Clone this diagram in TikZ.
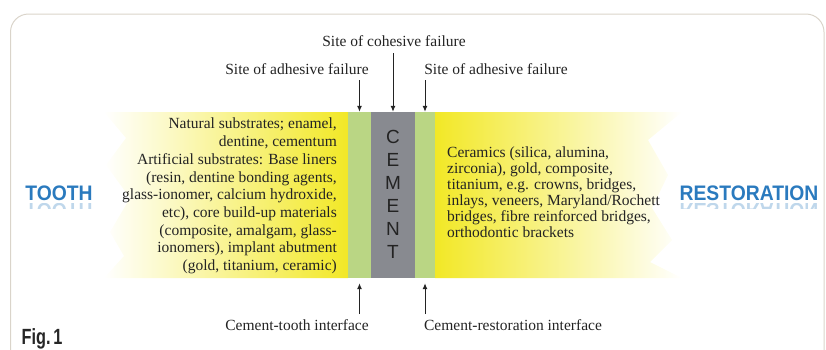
\documentclass[tikz,border=0pt]{standalone}
\usepackage{fontspec}
\setmainfont{Liberation Serif}
\setsansfont{Liberation Sans}
\usetikzlibrary{arrows.meta}

\definecolor{bandyellow}{RGB}{242,232,38}
\definecolor{layergreen}{RGB}{186,214,132}
\definecolor{cementgray}{RGB}{136,138,144}
\definecolor{titleblue}{RGB}{42,122,190}
\definecolor{framegray}{RGB}{218,212,202}
\definecolor{inkgray}{RGB}{35,35,35}

\tikzset{
  labeltext/.style={font=\fontsize{15.5}{17.7}\selectfont, text=inkgray, inner sep=0pt},
  layerbox/.style={minimum height=166pt, inner sep=0pt, draw=none},
  cementletter/.style={font=\sffamily\fontsize{19}{19}\selectfont, text=inkgray, inner sep=0pt},
  titletext/.style={font=\sffamily\bfseries\fontsize{21}{21}\selectfont, text=titleblue, xscale=0.92, inner sep=0pt},
  failarrow/.style={-{Latex[length=6pt,width=5pt]}, line width=1pt, inkgray},
}

\begin{document}
\begin{tikzpicture}[x=1pt,y=-1pt]
\useasboundingbox (0,0) rectangle (826,349);
\draw[framegray, line width=1pt, rounded corners=18pt] (10.5,372) -- (10.5,14) -- (824,14) -- (824,372);

\shade[left color=white, middle color=bandyellow!55, right color=bandyellow]
  (104,112) -- (348,112) -- (348,278) -- (104,278) -- (124,256) -- (110,232)
  -- (130,198) -- (106,165) -- (126,138) -- cycle;
\shade[left color=bandyellow, middle color=bandyellow!45, right color=white]
  (435,112) -- (682,112) -- (648,140) -- (668,175) -- (652,208) -- (672,240)
  -- (650,262) -- (682,278) -- (435,278) -- cycle;

\node[layerbox, fill=layergreen, minimum width=23pt] (gl) at (359.5,195) {};
\node[layerbox, fill=cementgray, minimum width=44pt] (cem) at (393,195) {};
\node[layerbox, fill=layergreen, minimum width=20pt] (gr) at (425,195) {};

\foreach \l [count=\i] in {C,E,M,E,N,T}{
  \node[cementletter] (c\i) at (393,{114+\i*23}) {\l};
}

\node[labeltext, align=right, anchor=east] (toothtext) at (337,196) {Natural substrates; enamel,\\
dentine, cementum\\
Artificial substrates: Base liners\\
(resin, dentine bonding agents,\\
glass-ionomer, calcium hydroxide,\\
etc), core build-up materials\\
(composite, amalgam, glass-\\
ionomers), implant abutment\\
(gold, titanium, ceramic)};
\node[labeltext, align=left, anchor=west, font=\fontsize{15.5}{16}\selectfont] (resttext) at (447,192) {Ceramics (silica, alumina,\\
zirconia), gold, composite,\\
titanium, e.g. crowns, bridges,\\
inlays, veneers, Maryland/Rochett\\
bridges, fibre reinforced bridges,\\
orthodontic brackets};

\node[labeltext] (cohesive) at (394,41) {Site of cohesive failure};
\node[labeltext] (adhtooth) at (297,69) {Site of adhesive failure};
\node[labeltext] (adhrest) at (496,69) {Site of adhesive failure};
\node[labeltext] (toothint) at (297,325) {Cement-tooth interface};
\node[labeltext] (restint) at (513,325) {Cement-restoration interface};

\coordinate (coh) at (393,53);
\coordinate (adt) at (359.5,80);
\coordinate (adr) at (425,80);
\coordinate (cti) at (359.5,314);
\coordinate (cri) at (425,314);
\draw[failarrow] (coh) -- (cem.north);
\draw[failarrow] (adt) -- (gl.north);
\draw[failarrow] (adr) -- (gr.north);
\draw[failarrow, shorten >=5pt] (cti) -- (gl.south);
\draw[failarrow, shorten >=5pt] (cri) -- (gr.south);

\node[titletext] (tooth) at (59,193) {TOOTH};
\node[titletext] (restoration) at (749,193) {RESTORATION};
\begin{scope}
\clip (15,203.5) rectangle (120,208.5);
\node[titletext, yscale=-1, opacity=0.3] (toothmirror) at (59,211) {TOOTH};
\end{scope}
\begin{scope}
\clip (660,203.5) rectangle (826,208.5);
\node[titletext, yscale=-1, opacity=0.3] (restmirror) at (749,211) {RESTORATION};
\end{scope}

\node[font=\sffamily\bfseries\fontsize{22}{22}\selectfont, xscale=0.74, text=black!85, inner sep=0pt] (fig) at (42,339) {Fig.\,1};
\end{tikzpicture}
\end{document}
